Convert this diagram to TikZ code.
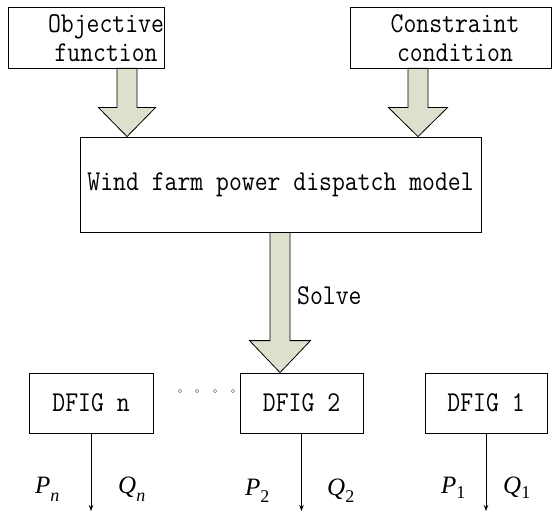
\documentclass[tikz,border=0pt]{standalone}
\usepackage{fontspec}
\setmainfont{Liberation Serif}
\usetikzlibrary{calc,arrows.meta}
\definecolor{arrfill}{RGB}{221,224,204}
\newcommand\tx[1]{\scalebox{1}[1.15]{#1}}
\newcommand\sub[2]{\raisebox{-#1pt}{\fontsize{18}{18}\selectfont #2}}
\newcommand\bigarrow[5]{% #1 x name, #2 top anchor, #3 tip anchor, #4 head length, #5 head half width
  \draw[fatarr] ($(#1|-#2)+(-10,0)$) -- ($(#1|-#3)+(-10,-#4)$) -- ($(#1|-#3)+(-#5,-#4)$)
    -- (#1|-#3) -- ($(#1|-#3)+(#5,-#4)$) -- ($(#1|-#3)+(10,-#4)$) -- ($(#1|-#2)+(10,0)$) -- cycle;}
\begin{document}
\begin{tikzpicture}[x=1pt,y=-1pt,
  box/.style={draw,line width=0.8pt,inner sep=0pt},
  lbl/.style={font=\fontsize{25}{29}\selectfont\ttfamily,inner sep=0pt,align=center},
  fatarr/.style={draw,line width=0.8pt,fill=arrfill,line join=miter},
  thinarr/.style={draw,line width=0.7pt,-{Stealth[length=6pt,width=4.5pt]}},
  var/.style={font=\fontsize{25}{25}\selectfont\itshape,inner sep=0pt,anchor=base west},
  dot/.style={draw=gray,line width=0.5pt}
]
\useasboundingbox (0,0) rectangle (556,513);
% top boxes
\node[box,minimum width=156pt,minimum height=61pt] (obj) at (86,37.5) {};
\node[lbl] (objt) at (106,38) {\tx{Objective}\\\tx{function}};
\node[box,minimum width=201pt,minimum height=61pt] (con) at (450.5,37.5) {};
\node[lbl] (cont) at (455,38) {\tx{Constraint}\\\tx{condition}};
% middle box
\node[box,lbl,minimum width=401pt,minimum height=95pt] (mid) at (280.5,184.5) {\tx{Wind farm power dispatch model}};
% DFIG boxes
\node[box,lbl,minimum width=124pt,minimum height=60pt] (dn) at (91,403) {\tx{DFIG n}};
\node[box,lbl,minimum width=123pt,minimum height=60pt] (d2) at (301.5,403) {\tx{DFIG 2}};
\node[box,lbl,minimum width=122pt,minimum height=60pt] (d1) at (486,403) {\tx{DFIG 1}};
% fat arrows
\coordinate (xa) at (127,0);
\coordinate (xb) at (418,0);
\coordinate (xc) at (280,0);
\bigarrow{xa}{obj.south}{mid.north}{29}{28.5}
\bigarrow{xb}{con.south}{mid.north}{29}{29.5}
\bigarrow{xc}{mid.south}{d2.north}{32}{30.5}
\node[lbl,anchor=base west] (solve) at (297,304) {\tx{Solve}};
% dots
\foreach \x in {180,197,215,233} \draw[dot] (\x,391) circle[radius=1.8pt];
% thin arrows
\coordinate (en) at (91,511);
\coordinate (e2) at (301.5,511);
\coordinate (e1) at (486,511);
\draw[thinarr] (dn.south) -- (en);
\draw[thinarr] (d2.south) -- (e2);
\draw[thinarr] (d1.south) -- (e1);
% labels
\node[var] (pn) at (35,493) {P\sub{8}{n}};
\node[var] (qn) at (118,493) {Q\sub{8}{n}};
\node[var] (p2) at (245,495) {P\sub{7}{\upshape 2}};
\node[var] (q2) at (327,495) {Q\sub{7}{\upshape 2}};
\node[var] (p1) at (441,493) {P\sub{5}{\upshape 1}};
\node[var] (q1) at (503,493) {Q\sub{5}{\upshape 1}};
\end{tikzpicture}
\end{document}
